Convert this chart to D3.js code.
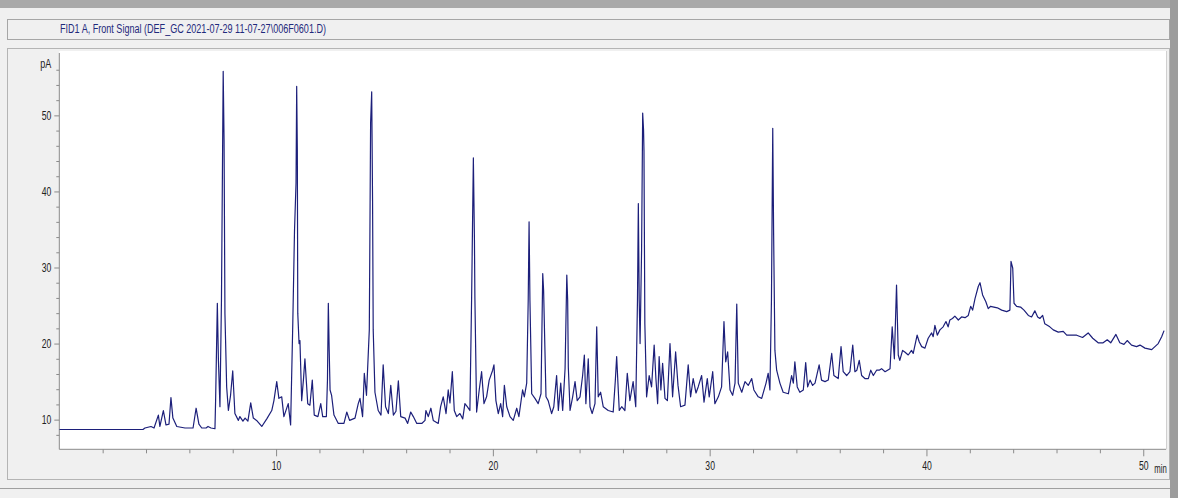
<!DOCTYPE html>
<html>
<head>
<meta charset="utf-8">
<script src="https://cdn.jsdelivr.net/npm/d3@7"></script>
<style>
  body { margin: 0; background: #f0f0f0; }
  svg { display: block; }
  .tick text, .unit { font-family: "Liberation Sans", Arial, sans-serif; font-size: 12.5px; fill: #222; }
</style>
</head>
<body>
<div id="chart"></div>
<script>
const title = "FID1 A, Front Signal (DEF_GC 2021-07-29 11-07-27\\006F0601.D)";
const yUnit = "pA";
const xUnit = "min";
const yMajorTicks = [10, 20, 30, 40, 50];
const xMajorTicks = [10, 20, 30, 40, 50];

// retention time (min) and detector signal (pA)
const retentionMin = [
  0, 3.86, 3.95, 4.23, 4.37, 4.57, 4.64, 4.80, 4.92, 5.06,
  5.15, 5.24, 5.42, 5.80, 6.17, 6.31, 6.44, 6.57, 6.77, 6.86,
  7.00, 7.18, 7.21, 7.29, 7.34, 7.41, 7.48, 7.56, 7.60, 7.64,
  7.72, 7.80, 7.90, 8.00, 8.10, 8.26, 8.33, 8.47, 8.57, 8.70,
  8.83, 8.95, 9.10, 9.34, 9.57, 9.80, 9.90, 10.03, 10.13, 10.26,
  10.36, 10.56, 10.67, 10.77, 10.85, 10.92, 10.95, 10.98, 11.00, 11.06,
  11.10, 11.18, 11.26, 11.33, 11.46, 11.56, 11.67, 11.76, 11.93, 12.06,
  12.15, 12.32, 12.37, 12.41, 12.45, 12.49, 12.56, 12.67, 12.87, 13.13,
  13.26, 13.39, 13.64, 13.79, 13.87, 13.99, 14.07, 14.17, 14.30, 14.36,
  14.41, 14.45, 14.48, 14.56, 14.71, 14.84, 14.94, 15.05, 15.18, 15.29,
  15.41, 15.53, 15.64, 15.75, 15.95, 16.07, 16.21, 16.33, 16.49, 16.72,
  16.87, 16.91, 17.02, 17.14, 17.25, 17.48, 17.59, 17.71, 17.84, 17.94,
  18.02, 18.13, 18.22, 18.33, 18.48, 18.61, 18.71, 18.82, 18.94, 19.02,
  19.10, 19.15, 19.17, 19.25, 19.37, 19.48, 19.59, 19.71, 19.83, 19.99,
  20.05, 20.14, 20.25, 20.36, 20.45, 20.53, 20.64, 20.79, 20.94, 21.10,
  21.20, 21.37, 21.45, 21.56, 21.63, 21.67, 21.71, 21.79, 21.94, 22.09,
  22.22, 22.30, 22.34, 22.45, 22.55, 22.71, 22.81, 22.94, 23.02, 23.13,
  23.22, 23.33, 23.41, 23.45, 23.48, 23.56, 23.68, 23.79, 23.89, 24.02,
  24.14, 24.22, 24.29, 24.40, 24.48, 24.58, 24.71, 24.79, 24.86, 24.97,
  25.09, 25.32, 25.55, 25.65, 25.71, 25.83, 25.94, 26.09, 26.20, 26.32,
  26.47, 26.59, 26.67, 26.71, 26.75, 26.79, 26.86, 26.91, 26.95, 26.97,
  27.01, 27.09, 27.21, 27.32, 27.44, 27.52, 27.60, 27.67, 27.75, 27.83,
  27.94, 28.05, 28.17, 28.29, 28.43, 28.54, 28.66, 28.86, 29.01, 29.12,
  29.24, 29.37, 29.47, 29.63, 29.74, 29.89, 29.98, 30.14, 30.24, 30.40,
  30.55, 30.66, 30.74, 30.83, 30.94, 31.06, 31.17, 31.25, 31.32, 31.48,
  31.63, 31.78, 31.94, 32.04, 32.24, 32.40, 32.60, 32.70, 32.78, 32.85,
  32.91, 32.95, 33.01, 33.09, 33.24, 33.39, 33.63, 33.78, 33.86, 33.93,
  34.04, 34.16, 34.32, 34.43, 34.52, 34.63, 34.75, 34.86, 35.05, 35.16,
  35.32, 35.47, 35.63, 35.73, 35.93, 36.06, 36.16, 36.32, 36.47, 36.60,
  36.70, 36.79, 36.90, 37.01, 37.16, 37.32, 37.43, 37.55, 37.70, 37.82,
  37.93, 38.09, 38.32, 38.42, 38.52, 38.62, 38.70, 38.77, 38.90, 39.00,
  39.16, 39.31, 39.39, 39.57, 39.67, 39.78, 39.93, 40.08, 40.24, 40.31,
  40.39, 40.50, 40.62, 40.77, 40.90, 41.00, 41.08, 41.20, 41.31, 41.47,
  41.62, 41.78, 41.93, 42.04, 42.13, 42.24, 42.39, 42.47, 42.59, 42.74,
  42.85, 42.96, 43.11, 43.27, 43.47, 43.70, 43.85, 43.90, 43.98, 44.04,
  44.16, 44.34, 44.50, 44.70, 44.85, 45.00, 45.13, 45.23, 45.36, 45.46,
  45.69, 45.85, 46.08, 46.31, 46.47, 46.70, 46.93, 47.20, 47.46, 47.67,
  47.92, 48.15, 48.34, 48.50, 48.74, 48.92, 49.11, 49.26, 49.46, 49.69,
  49.85, 50.08, 50.39, 50.54, 50.69, 50.85, 50.96
];
const signalPA = [
  8.7, 8.7, 8.9, 9.1, 8.9, 10.6, 9.1, 11.2, 9.3, 9.4,
  12.9, 10.2, 9.1, 8.9, 8.9, 11.5, 9.4, 8.9, 8.9, 9.1,
  8.9, 8.8, 12.5, 25.3, 17.8, 11.7, 25.7, 55.8, 46.8, 24.0,
  14.3, 11.2, 13.2, 16.4, 10.8, 9.9, 10.4, 9.8, 10.2, 9.8,
  12.2, 10.2, 9.9, 9.1, 10.1, 11.2, 12.5, 15.0, 12.8, 13.0,
  10.4, 12.1, 9.3, 22.6, 34.9, 41.1, 53.8, 45.4, 24.0, 20.0,
  20.4, 12.5, 15.2, 18.0, 12.1, 11.9, 15.2, 10.6, 10.4, 12.1,
  10.4, 10.4, 15.2, 25.3, 19.1, 13.9, 13.2, 10.6, 9.5, 9.5,
  11.0, 9.9, 10.2, 12.1, 12.8, 10.4, 16.1, 13.2, 21.8, 49.0,
  53.1, 38.9, 21.8, 13.6, 11.2, 10.6, 17.2, 11.7, 10.8, 14.5,
  10.6, 11.1, 15.1, 10.4, 10.2, 9.5, 11.0, 10.4, 9.5, 9.5,
  9.9, 11.2, 10.4, 11.5, 9.9, 9.5, 11.7, 13.0, 10.8, 13.9,
  12.2, 16.3, 11.2, 10.4, 10.8, 10.1, 12.1, 11.7, 11.2, 26.1,
  44.4, 33.6, 26.1, 11.0, 13.9, 16.3, 12.1, 13.0, 15.2, 16.5,
  17.2, 12.5, 10.8, 12.1, 10.4, 14.5, 11.7, 10.4, 9.9, 11.5,
  10.4, 13.9, 13.0, 14.8, 25.7, 36.0, 25.7, 13.4, 12.8, 12.1,
  13.4, 29.2, 27.0, 13.0, 12.5, 10.8, 11.7, 15.8, 11.2, 14.8,
  11.2, 16.7, 29.0, 25.7, 16.9, 11.2, 13.0, 15.0, 12.5, 13.0,
  15.8, 18.5, 12.1, 18.0, 11.7, 10.8, 12.1, 22.2, 13.0, 13.6,
  11.7, 11.2, 11.0, 15.2, 18.3, 11.2, 11.7, 11.2, 16.1, 12.5,
  15.0, 11.7, 25.7, 38.4, 25.7, 20.0, 32.3, 50.3, 48.1, 45.4,
  22.6, 13.0, 15.8, 14.3, 19.8, 15.4, 12.1, 18.3, 13.9, 17.4,
  12.8, 12.5, 20.0, 13.0, 18.9, 14.5, 11.7, 11.9, 17.2, 13.0,
  15.4, 13.5, 14.3, 15.8, 12.3, 15.4, 13.0, 16.3, 12.1, 13.0,
  14.3, 22.9, 17.6, 18.9, 13.9, 13.2, 14.8, 25.2, 14.8, 13.6,
  15.0, 14.5, 15.4, 13.9, 13.0, 12.8, 14.8, 16.1, 13.9, 25.7,
  48.3, 34.5, 19.1, 16.5, 14.8, 13.6, 13.4, 15.8, 14.8, 17.6,
  14.3, 13.6, 13.9, 17.5, 14.3, 15.2, 14.5, 14.8, 17.2, 15.2,
  15.0, 15.2, 18.7, 15.8, 15.4, 19.6, 16.3, 15.8, 16.3, 19.8,
  16.3, 16.5, 17.8, 15.8, 15.4, 15.4, 16.5, 15.8, 16.5, 16.5,
  16.7, 16.3, 16.7, 22.2, 18.0, 27.7, 18.5, 17.8, 19.1, 18.9,
  18.5, 19.1, 18.7, 21.1, 20.2, 19.6, 19.4, 20.7, 21.4, 20.9,
  22.4, 21.1, 21.8, 22.2, 22.9, 22.2, 23.1, 23.3, 23.6, 23.1,
  23.5, 23.4, 23.7, 24.9, 24.4, 25.9, 27.5, 28.0, 26.4, 25.5,
  24.6, 24.9, 24.8, 24.7, 24.4, 24.2, 24.4, 30.8, 29.9, 25.3,
  24.9, 24.8, 24.4, 23.7, 23.5, 24.3, 23.5, 23.3, 23.7, 22.6,
  22.2, 21.8, 21.5, 21.6, 21.1, 21.1, 21.1, 20.8, 21.4, 20.7,
  20.1, 20.1, 20.5, 20.1, 21.2, 20.1, 19.9, 20.4, 19.8, 19.6,
  19.8, 19.4, 19.2, 19.6, 20.0, 20.9, 21.7
];

const W = 1178, H = 498;
const plot = { left: 59.3, right: 1166, top: 51, bottom: 449.3 };

const svg = d3.select("#chart").append("svg")
    .attr("width", W)
    .attr("height", H);

// window chrome
svg.append("rect").attr("x", 0).attr("y", 0).attr("width", W).attr("height", H).attr("fill", "#f0f0f0");
svg.append("rect").attr("x", 0).attr("y", 0).attr("width", W).attr("height", 8).attr("fill", "#a9a9a9");
svg.append("rect").attr("x", 1170).attr("y", 0).attr("width", 8).attr("height", H).attr("fill", "#9c9c9c");

// title box
svg.append("rect")
    .attr("x", 7.5).attr("y", 19.5).attr("width", 1162).attr("height", 20)
    .attr("fill", "#f0f0f0").attr("stroke", "#a6a6a6");
svg.append("text")
    .attr("x", 60).attr("y", 33)
    .attr("textLength", 266).attr("lengthAdjust", "spacingAndGlyphs")
    .style("font-family", "'Liberation Sans', Arial, sans-serif")
    .style("font-size", "12.5px")
    .style("fill", "#1f2a7c")
    .text(title);

// plot panel
svg.append("rect")
    .attr("x", 7.5).attr("y", 48.5).attr("width", 1162).attr("height", 431)
    .attr("fill", "#f0f0f0").attr("stroke", "#b4b4b4");
svg.append("line")
    .attr("x1", 0).attr("x2", 1170).attr("y1", 488.5).attr("y2", 488.5)
    .attr("stroke", "#a0a0a0");
svg.append("rect")
    .attr("x", plot.left).attr("y", plot.top)
    .attr("width", plot.right - plot.left).attr("height", plot.bottom - plot.top)
    .attr("fill", "#ffffff");
svg.append("line")
    .attr("x1", plot.right + 0.5).attr("x2", plot.right + 0.5)
    .attr("y1", plot.top).attr("y2", plot.bottom)
    .attr("stroke", "#d0d0d0");

const x = d3.scaleLinear().domain([0, 51.05]).range([plot.left, plot.right]);
const y = d3.scaleLinear().domain([6.1, 58.2]).range([plot.bottom, 53]);

// y axis: minor every 2 pA, labels every 10
const yMinor = svg.append("g")
    .attr("transform", `translate(${plot.left},0)`)
    .call(d3.axisLeft(y).tickValues(d3.range(8, 58, 2).filter(v => !yMajorTicks.includes(v)))
        .tickSize(3).tickFormat(""));
const yMajor = svg.append("g")
    .attr("transform", `translate(${plot.left},0)`)
    .call(d3.axisLeft(y).tickValues(yMajorTicks).tickSize(5).tickPadding(3).tickSizeOuter(0));

// x axis: minor every 2 min, labels every 10
const xMinor = svg.append("g")
    .attr("transform", `translate(0,${plot.bottom})`)
    .call(d3.axisBottom(x).tickValues(d3.range(2, 51, 2).filter(v => !xMajorTicks.includes(v)))
        .tickSize(4).tickFormat(""));
const xMajor = svg.append("g")
    .attr("transform", `translate(0,${plot.bottom})`)
    .call(d3.axisBottom(x).tickValues(xMajorTicks).tickSize(7).tickPadding(5).tickSizeOuter(0));

[yMinor, yMajor, xMinor, xMajor].forEach(g => {
    g.select(".domain").remove();
    g.selectAll(".tick line").attr("stroke", "#8a8a8a");
});
// narrow digits like the original software font
[yMajor, xMajor].forEach(g => {
    g.selectAll(".tick text")
        .attr("textLength", d => String(d).length * 4.8)
        .attr("lengthAdjust", "spacingAndGlyphs");
});
xMajor.selectAll(".tick text").attr("dy", "0.72em");

svg.append("line")
    .attr("x1", plot.left).attr("x2", plot.left)
    .attr("y1", 53).attr("y2", plot.bottom)
    .attr("stroke", "#8a8a8a");
svg.append("line")
    .attr("x1", plot.left).attr("x2", plot.right)
    .attr("y1", plot.bottom).attr("y2", plot.bottom)
    .attr("stroke", "#8a8a8a");

svg.append("text")
    .attr("class", "unit")
    .attr("x", plot.left - 8).attr("y", 68)
    .attr("text-anchor", "end")
    .attr("textLength", 11).attr("lengthAdjust", "spacingAndGlyphs")
    .text(yUnit);
svg.append("text")
    .attr("class", "unit")
    .attr("x", x(50) + 11).attr("y", 473)
    .attr("textLength", 12.5).attr("lengthAdjust", "spacingAndGlyphs")
    .text(xUnit);

// the chromatogram trace
const trace = retentionMin.map((t, i) => [t, signalPA[i]]);

svg.append("clipPath").attr("id", "clip")
    .append("rect")
    .attr("x", plot.left).attr("y", plot.top)
    .attr("width", plot.right - plot.left).attr("height", plot.bottom - plot.top);

svg.append("path")
    .datum(trace)
    .attr("clip-path", "url(#clip)")
    .attr("fill", "none")
    .attr("stroke", "#1c1f7a")
    .attr("stroke-width", 1.2)
    .attr("stroke-linejoin", "round")
    .attr("d", d3.line().x(d => x(d[0])).y(d => y(d[1])));
</script>
</body>
</html>
